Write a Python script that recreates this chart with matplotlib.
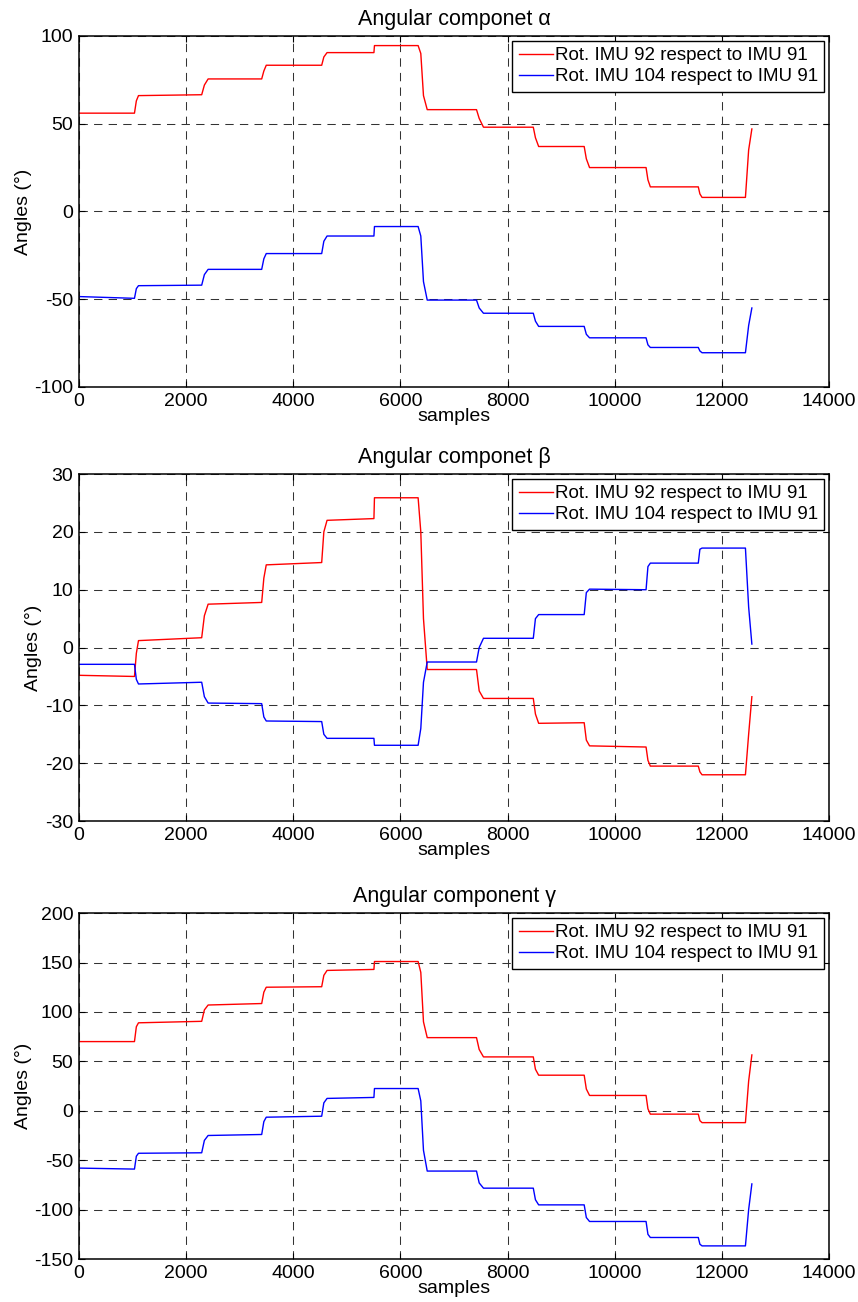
import numpy as np
import matplotlib
matplotlib.use("Agg")
import matplotlib.pyplot as plt

# breakpoints along the sample axis (shared by all traces)
samples = [0, 1035, 1070, 1110, 2290, 2340, 2410, 3410, 3450, 3495, 4530, 4570, 4630,
           5505, 5515, 6330, 6380, 6430, 6500, 7420, 7470, 7550, 8480, 8520, 8580,
           9430, 9470, 9530, 10585, 10620, 10665, 11560, 11590, 11630, 12440, 12500, 12560]

alpha_92 = [56, 56, 63, 66, 66.5, 72, 75.5, 75.5, 80, 83.3, 83.3, 88, 90.5,
            90.5, 94.5, 94.5, 90, 66, 58, 58, 53, 48, 48, 42, 37,
            37, 30, 25, 25, 18, 14, 14, 10, 8, 8, 35, 47]
alpha_104 = [-48.5, -49.5, -44, -42.3, -42, -36, -33, -33, -27, -24, -24, -17, -14,
             -14, -8.6, -8.6, -14, -40, -50.5, -50.5, -55, -58, -58, -62.5, -65.5,
             -65.5, -70, -72, -72, -76, -77.5, -77.5, -79.5, -80.5, -80.5, -65, -55]

beta_92 = [-4.8, -5, -1, 1.2, 1.7, 5.5, 7.5, 7.8, 12, 14.3, 14.7, 20, 22,
           22.3, 25.9, 25.9, 20, 5, -3.8, -3.8, -7.5, -8.8, -8.8, -11.5, -13.1,
           -13, -16, -17, -17.2, -19.5, -20.5, -20.5, -21.5, -22, -22, -15, -8.5]
beta_104 = [-2.9, -2.9, -5.5, -6.3, -6, -8.5, -9.6, -9.7, -12, -12.7, -12.8, -15, -15.7,
            -15.7, -16.9, -16.9, -14, -6, -2.5, -2.5, 0, 1.6, 1.6, 5, 5.7,
            5.7, 9.5, 10.1, 10, 14, 14.6, 14.6, 17, 17.2, 17.2, 7, 0.6]

gamma_92 = [70, 70, 85, 89, 90.5, 102, 107, 108.5, 120, 125, 125.5, 137, 142,
            143, 151, 151, 140, 90, 74, 74, 62, 54.5, 54.5, 42, 36,
            36, 22, 15.5, 15.5, 2, -3.4, -3.4, -10, -12, -12, 30, 56.5]
gamma_104 = [-58, -59, -46, -43, -42.5, -30, -25, -24, -11, -6.5, -5.5, 8, 12.5,
             13.5, 22.5, 22.5, 10, -40, -61, -61, -73, -78.3, -78.3, -90, -95.2,
             -95.2, -108, -112, -112, -125, -128.2, -128.2, -135, -136.7, -136.7, -100, -74]

titles = [u"Angular componet \u03b1", u"Angular componet \u03b2", u"Angular component \u03b3"]
labels = ["Rot. IMU 92 respect to IMU 91", "Rot. IMU 104 respect to IMU 91"]
ylims = [(-100, 100), (-30, 30), (-150, 200)]
yticks = [np.arange(-100, 101, 50), np.arange(-30, 31, 10), np.arange(-150, 201, 50)]
xticks = np.arange(0, 14001, 2000)

plt.rcParams['font.family'] = ['Liberation Sans', 'DejaVu Sans']
plt.rcParams['axes.unicode_minus'] = False

fig = plt.figure(figsize=(8.58, 13.02), dpi=100)
positions = [[0.0921, 0.7028, 0.8741, 0.2696],
             [0.0921, 0.3694, 0.8741, 0.2665],
             [0.0921, 0.0330, 0.8741, 0.2657]]
data = [(alpha_92, alpha_104), (beta_92, beta_104), (gamma_92, gamma_104)]

for i in range(3):
    ax = fig.add_axes(positions[i])
    ax.plot(samples, data[i][0], color='#ff0000', lw=1.0, label=labels[0])
    ax.plot(samples, data[i][1], color='#0000ff', lw=1.0, label=labels[1])
    ax.set_xlim(0, 14000)
    ax.set_ylim(*ylims[i])
    ax.set_xticks(xticks)
    ax.set_yticks(yticks[i])
    ax.grid(True, color='#333333', linestyle=(0, (8, 6)), linewidth=0.75)
    ax.tick_params(direction='in', top=True, right=True, length=4, width=0.8,
                   labelsize=14, pad=4)
    for s in ax.spines.values():
        s.set_linewidth(1.1)
    ax.set_title(titles[i], fontsize=15.5, pad=8)
    ax.set_xlabel('samples', fontsize=14, labelpad=-1)
    ax.set_ylabel(u'Angles (\u00b0)', fontsize=14, labelpad=2)
    leg = ax.legend(loc='upper right', fancybox=False, edgecolor='black', framealpha=1,
                    fontsize=13.5, handlelength=1.8, handletextpad=0.1, borderpad=0.35,
                    labelspacing=0.2, borderaxespad=0.25)
    leg.get_frame().set_linewidth(1.0)

fig.savefig('out.png', dpi=100)
